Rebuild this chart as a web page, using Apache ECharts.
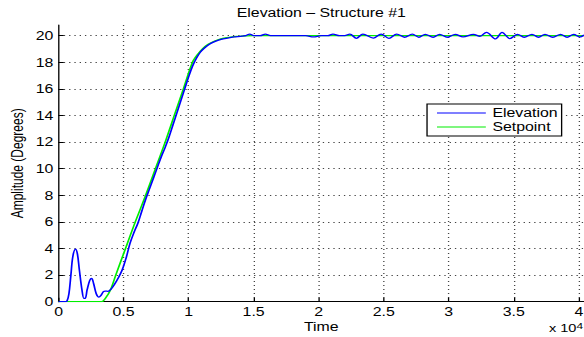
<!DOCTYPE html>
<html>
<head>
<meta charset="utf-8">
<script src="https://cdn.jsdelivr.net/npm/echarts@6/dist/echarts.min.js"></script>
<style>
  html, body { margin: 0; padding: 0; background: #fff; overflow: hidden; }
  /* The figure is laid out on a narrower canvas and widened to the page,
     giving the broad lettering of the exported plot. */
  #chart { width: 442px; height: 337px; transform: scaleX(1.32127); transform-origin: 0 0; }
</style>
</head>
<body>
<div id="chart"></div>
<script>
// Step response of the elevation loop: measured angle vs. commanded setpoint.
const seriesNames = ['Elevation', 'Setpoint'];

const setpointTime = [0, 3300, 3600, 4000, 4400, 5150, 5900, 6700, 7450, 8200, 8900, 9600,
  10300, 10700, 11100, 11500, 12000, 12900, 14000, 15000, 40400];
const setpointValue = [0, 0, 0.25, 0.9, 2, 4, 6, 8, 10, 12, 14, 16,
  18, 18.6, 19.05, 19.35, 19.6, 19.85, 19.97, 20, 20];

const elevationTime = [0, 500, 650, 800, 950, 1100, 1300, 1450, 1600, 1800, 1950, 2050,
  2200, 2400, 2550, 2700, 2900, 3100, 3250, 3450, 3600, 3800, 4000, 4300, 4600, 4900,
  5200, 5500, 5800, 6100, 6400, 6700, 7000, 7300, 7600, 7900, 8200, 8500, 8800, 9100,
  9400, 9700, 10000, 10300, 10600, 10900, 11200, 11600, 12000, 12500, 13000, 13500,
  14000, 14400, 14700, 15000, 15500, 15900, 16300, 19000, 19600, 20200, 20700, 21100,
  21600, 22000, 22400, 22900, 23400, 24200, 24800, 25400, 26000, 26600, 27200, 27700,
  28200, 28800, 29300, 29900, 30500, 31100, 31900, 32400, 32900, 33600, 34100, 34700,
  35300, 35800, 36400, 36900, 37400, 38000, 38600, 39100, 39600, 40100, 40400];
const elevationValue = [0, 0, 0.05, 0.6, 2.0, 3.4, 3.95, 3.6, 2.4, 0.9, 0.25, 0.25,
  0.9, 1.6, 1.75, 1.35, 0.6, 0.35, 0.45, 0.75, 0.8, 0.78, 0.9, 1.3, 1.8, 2.4,
  3.3, 4.4, 5.2, 5.9, 6.8, 7.7, 8.5, 9.3, 10.1, 10.9, 11.6, 12.4, 13.3, 14.2,
  15.1, 16.0, 16.9, 17.7, 18.3, 18.75, 19.05, 19.35, 19.55, 19.72, 19.82, 19.9,
  19.95, 20.0, 20.12, 20.0, 20.0, 20.12, 20.0, 20.0, 19.9, 20.0, 20.0, 20.12,
  20.0, 20.0, 20.12, 19.8, 20.12, 19.82, 20.12, 19.8, 20.12, 19.88, 20.12, 19.88,
  20.1, 19.88, 20.1, 19.88, 20.1, 19.9, 20.1, 19.95, 20.25, 19.75, 20.25, 19.78,
  20.1, 19.88, 20.1, 19.88, 20.1, 19.88, 20.1, 19.88, 20.1, 19.9, 20.05];

const xTickStep = 5000;   // axis labelled in units of 10^4
const yTickStep = 2;

const font = 'Liberation Sans, Arial, Helvetica, sans-serif';
const pairs = (xs, ys) => xs.map((x, i) => [x, ys[i]]);
const gridDots = { show: true, showMinLine: false, showMaxLine: false,
  lineStyle: { color: '#444', width: 1, type: [1, 3] } };

const gridLeft = 44.3;
const chartWidth = 442;

const chart = echarts.init(document.getElementById('chart'), null, { renderer: 'svg' });
chart.setOption({
  animation: false,
  backgroundColor: '#fff',
  grid: { left: gridLeft, right: 0, top: 25, bottom: 35.3, containLabel: false,
    outerBoundsMode: 'none' },
  xAxis: {
    type: 'value', min: 0, max: 40400, interval: xTickStep,
    name: 'Time', nameLocation: 'middle', nameGap: 19, nameMoveOverlap: false,
    nameTextStyle: { fontFamily: font, fontSize: 12, color: '#000', lineHeight: 12 },
    axisLine: { show: true, onZero: false, lineStyle: { color: '#000', width: 1 } },
    axisTick: { show: true, inside: true, length: 4, lineStyle: { color: '#000' } },
    axisLabel: { fontFamily: font, fontSize: 12, color: '#000', margin: 4, lineHeight: 12,
      showMaxLabel: false,
      formatter: v => (v % xTickStep === 0 ? String(v / 10000) : '') },
    splitLine: gridDots
  },
  yAxis: {
    type: 'value', min: 0, max: 20.8, interval: yTickStep,
    name: 'Amplitude (Degrees)', nameLocation: 'middle', nameGap: 25, nameRotate: 90,
    nameMoveOverlap: false,
    nameTextStyle: { fontFamily: font, fontSize: 12, color: '#000' },
    axisLine: { show: true, lineStyle: { color: '#000', width: 1 } },
    axisTick: { show: true, inside: true, length: 4, lineStyle: { color: '#000' } },
    axisLabel: { fontFamily: font, fontSize: 12, color: '#000', margin: 4, showMaxLabel: false,
      formatter: v => (v % yTickStep === 0 ? String(v) : '') },
    splitLine: gridDots
  },
  legend: {
    orient: 'vertical', left: 323.2, top: 104,
    data: seriesNames.map(n => ({ name: n, icon: 'rect' })),
    itemWidth: 37, itemHeight: 1.2, itemGap: 0,
    padding: [2, 3, 2, 7.5],
    backgroundColor: '#fff', borderColor: '#000', borderWidth: 1, borderRadius: 0,
    textStyle: { fontFamily: font, fontSize: 12, color: '#000', lineHeight: 14 }
  },
  graphic: [
    { type: 'text', x: (gridLeft + chartWidth) / 2, y: 13,
      style: { text: 'Elevation – Structure #1', align: 'center', verticalAlign: 'middle',
        fontFamily: font, fontSize: 12, fill: '#000' } },
    { type: 'text', x: 415.5, y: 336, style: { rich: {
        b: { fontFamily: font, fontSize: 11, fill: '#000' },
        s: { fontFamily: font, fontSize: 9, fill: '#000', padding: [0, 0, 6, 0] } },
      text: '{b|x 10}{s|4}', verticalAlign: 'bottom' } }
  ],
  series: [
    { name: seriesNames[1], type: 'line', data: pairs(setpointTime, setpointValue),
      showSymbol: false, symbol: 'none', smooth: 0.3, z: 2,
      lineStyle: { color: '#00ee00', width: 1.3 }, itemStyle: { color: '#00ee00' } },
    { name: seriesNames[0], type: 'line', data: pairs(elevationTime, elevationValue),
      showSymbol: false, symbol: 'none', smooth: 0.35, z: 3,
      lineStyle: { color: '#0000ff', width: 1.3 }, itemStyle: { color: '#0000ff' } }
  ]
});
</script>
</body>
</html>
